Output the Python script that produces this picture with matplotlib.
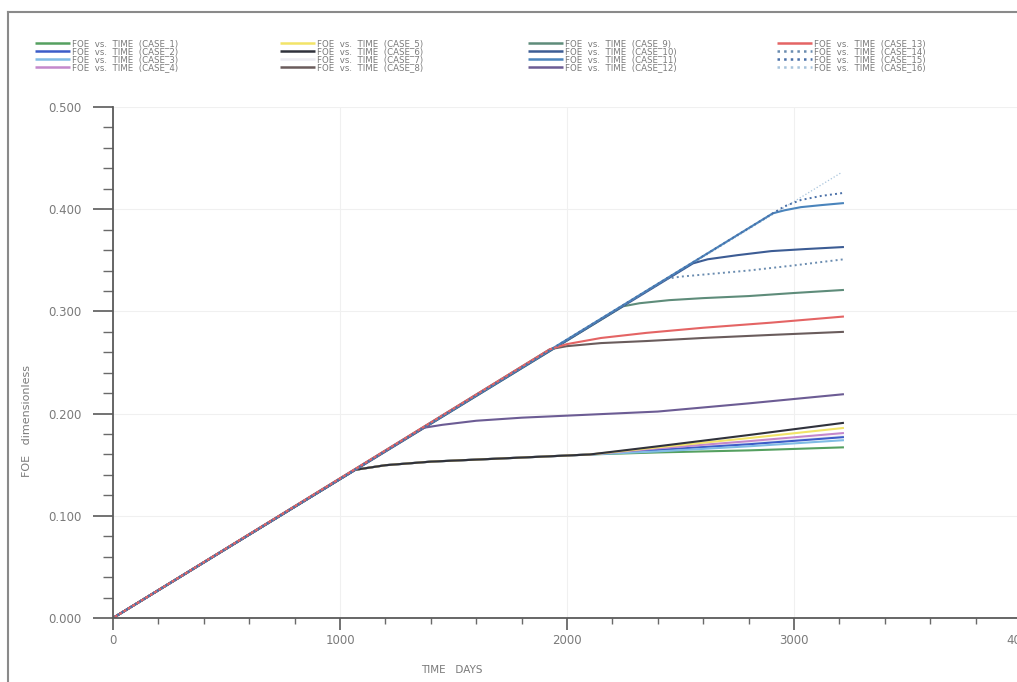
import matplotlib.pyplot as plt
from matplotlib.lines import Line2D
from matplotlib.ticker import MultipleLocator, FormatStrFormatter

# FOE vs time for the 16 sensitivity cases (time in days, FOE dimensionless)
case_1_t = [0, 1066, 1200, 1400, 1700, 2100, 2400, 2800, 3220]
case_1_v = [0, 0.145, 0.1495, 0.153, 0.156, 0.160, 0.162, 0.164, 0.167]
case_2_t = [0, 1066, 1200, 1400, 1700, 2100, 2400, 2800, 3220]
case_2_v = [0, 0.145, 0.1495, 0.153, 0.156, 0.160, 0.1645, 0.170, 0.177]
case_3_t = [0, 1066, 1200, 1400, 1700, 2100, 2400, 2800, 3220]
case_3_v = [0, 0.145, 0.1495, 0.153, 0.156, 0.160, 0.163, 0.168, 0.174]
case_4_t = [0, 1066, 1200, 1400, 1700, 2100, 2400, 2800, 3220]
case_4_v = [0, 0.145, 0.1495, 0.153, 0.156, 0.160, 0.166, 0.173, 0.181]
case_5_t = [0, 1066, 1200, 1400, 1700, 2100, 2400, 2800, 3220]
case_5_v = [0, 0.145, 0.1495, 0.153, 0.156, 0.160, 0.167, 0.176, 0.186]
case_6_t = [0, 1066, 1200, 1400, 1700, 2100, 2400, 2800, 3220]
case_6_v = [0, 0.145, 0.1495, 0.153, 0.156, 0.160, 0.168, 0.179, 0.191]
case_7_t = [0, 1066, 1200, 1400, 1700, 2100, 2400, 2800, 3220]
case_7_v = [0, 0.145, 0.1495, 0.153, 0.156, 0.160, 0.165, 0.171, 0.178]
case_8_t = [0, 1925, 2000, 2150, 2350, 2600, 2900, 3220]
case_8_v = [0, 0.263, 0.266, 0.269, 0.271, 0.274, 0.277, 0.280]
case_9_t = [0, 2247, 2320, 2450, 2600, 2800, 3000, 3220]
case_9_v = [0, 0.305, 0.308, 0.311, 0.313, 0.315, 0.318, 0.321]
case_10_t = [0, 2555, 2620, 2750, 2900, 3050, 3220]
case_10_v = [0, 0.347, 0.351, 0.355, 0.359, 0.361, 0.363]
case_11_t = [0, 2907, 2960, 3030, 3120, 3220]
case_11_v = [0, 0.396, 0.399, 0.402, 0.404, 0.406]
case_12_t = [0, 1366, 1450, 1600, 1800, 2100, 2400, 2800, 3220]
case_12_v = [0, 0.186, 0.189, 0.193, 0.196, 0.199, 0.202, 0.210, 0.219]
case_13_t = [0, 1925, 2000, 2150, 2350, 2600, 2900, 3220]
case_13_v = [0, 0.263, 0.268, 0.274, 0.279, 0.284, 0.289, 0.295]
case_14_t = [0, 2440, 2500, 2600, 2800, 3000, 3220]
case_14_v = [0, 0.332, 0.334, 0.336, 0.340, 0.345, 0.351]
case_15_t = [0, 2907, 2960, 3030, 3120, 3220]
case_15_v = [0, 0.396, 0.403, 0.409, 0.413, 0.416]
case_16_t = [0, 3210]
case_16_v = [0, 0.436]

times = [case_1_t, case_2_t, case_3_t, case_4_t, case_5_t, case_6_t, case_7_t, case_8_t,
         case_9_t, case_10_t, case_11_t, case_12_t, case_13_t, case_14_t, case_15_t, case_16_t]
values = [case_1_v, case_2_v, case_3_v, case_4_v, case_5_v, case_6_v, case_7_v, case_8_v,
          case_9_v, case_10_v, case_11_v, case_12_v, case_13_v, case_14_v, case_15_v, case_16_v]
labels = ["FOE  vs.  TIME  (CASE_%d)" % (i + 1) for i in range(16)]

colors = ["#55a060", "#3c5cc8", "#80bce4", "#c488cc", "#f2e468", "#30323c", "#ececf2", "#6a5c5c",
          "#5e8c7a", "#3c5c94", "#4a84bc", "#6c5c94", "#e46464", "#6a8cb0", "#4a70a8", "#a8c4dc"]
styles = ["-"] * 13 + [":", ":", ":"]
widths = [1.5] * 13 + [1.4, 1.4, 0.9]
# pale curves go underneath so the shared trunk keeps its dark colour
zorders = [2] * 16
zorders[6] = 1.5
zorders[15] = 1.5

W, H = 1017, 682
fig = plt.figure(figsize=(W / 100, H / 100), dpi=100, facecolor="white")
ax = fig.add_axes([113 / W, 1 - 618 / H, (1021 - 113) / W, (618 - 107) / H])

handles = []
for t, v, c, ls, lw, z, lab in zip(times, values, colors, styles, widths, zorders, labels):
    (ln,) = ax.plot(t, v, color=c, ls=ls, lw=lw, zorder=z, label=lab, solid_capstyle="butt")
    handles.append(ln)

ax.set_xlim(0, 4000)
ax.set_ylim(0, 0.5)
ax.xaxis.set_major_locator(MultipleLocator(1000))
ax.xaxis.set_minor_locator(MultipleLocator(200))
ax.yaxis.set_major_locator(MultipleLocator(0.1))
ax.yaxis.set_minor_locator(MultipleLocator(0.02))
ax.yaxis.set_major_formatter(FormatStrFormatter("%.3f"))

ax.grid(True, which="major", color="#f0f0f0", lw=0.8)
ax.set_axisbelow(True)

for s in ["top", "right"]:
    ax.spines[s].set_visible(False)
for s in ["left", "bottom"]:
    ax.spines[s].set_color("#5a5a5a")
    ax.spines[s].set_linewidth(1.3)

ax.tick_params(axis="y", which="major", length=14.5, width=1.2, color="#5a5a5a",
               labelsize=8.5, labelcolor="#7a7a7a", pad=8)
ax.tick_params(axis="y", which="minor", length=7, width=1.0, color="#6a6a6a")
ax.tick_params(axis="x", which="major", length=8.5, width=1.2, color="#5a5a5a",
               labelsize=8.5, labelcolor="#7a7a7a", pad=3)
ax.tick_params(axis="x", which="minor", length=4, width=1.0, color="#6a6a6a")

fig.text(27 / W, 1 - 421 / H, "FOE   dimensionless", rotation=90, ha="center", va="center",
         fontsize=8, color="#7a7a7a")
fig.text(452 / W, 1 - 670 / H, "TIME   DAYS", ha="center", va="center", fontsize=7.5, color="#7a7a7a")

# one legend per column so each column sits where it should
col_x = [35, 280, 528, 777]
for k in range(4):
    leg = fig.legend(handles[4 * k:4 * k + 4], labels[4 * k:4 * k + 4], loc="upper left",
                     bbox_to_anchor=(col_x[k] / W, 1 - 39 / H), frameon=False, fontsize=6.2,
                     handlelength=4.1, handletextpad=0.25, labelspacing=-0.1,
                     borderpad=0, borderaxespad=0, labelcolor="#7a7a7a")
    for ln in leg.get_lines():
        ln.set_linewidth(1.8)

# outer frame
fig.add_artist(Line2D([8 / W, 1], [1 - 12 / H, 1 - 12 / H], color="#8a8a8a", lw=1.5))
fig.add_artist(Line2D([8 / W, 8 / W], [1 - 12 / H, 0], color="#8a8a8a", lw=1.5))

fig.savefig("out.png", dpi=100, facecolor="white")
